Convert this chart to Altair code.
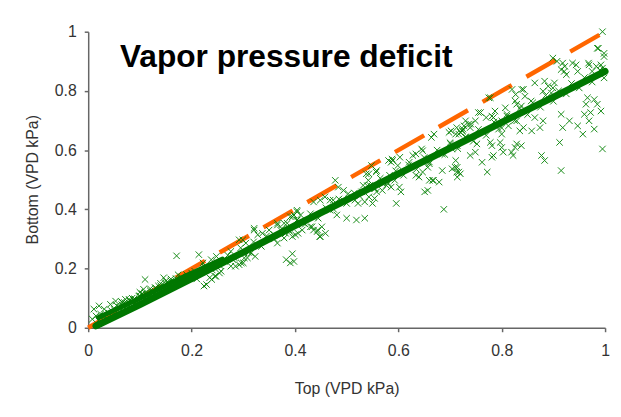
import altair as alt
import pandas as pd

title_text = "Vapor pressure deficit"
x_title = "Top (VPD kPa)"
y_title = "Bottom (VPD kPa)"
tick_values = [0, 0.2, 0.4, 0.6, 0.8, 1]

# 1:1 reference line
ref_x = [0, 1]
ref_y = [0, 1]

# dense central band (trend of the point cloud)
band_x = [0.015, 0.1, 0.2, 0.3, 0.4, 0.5, 0.6, 0.7, 0.8, 0.9, 1.0]
band_y = [0.006, 0.078, 0.166, 0.255, 0.345, 0.432, 0.520, 0.607, 0.694, 0.779, 0.866]

# upper side of the dense cloud at low values
blob_x = [0.02, 0.10, 0.18, 0.26]
blob_y = [0.035, 0.100, 0.168, 0.232]

pts_blob = [
    (0.03, 0.040), (0.04, 0.050), (0.05, 0.062), (0.05, 0.045), (0.06, 0.070), (0.06, 0.055),
    (0.07, 0.085), (0.07, 0.065), (0.08, 0.092), (0.08, 0.075), (0.09, 0.098), (0.09, 0.082),
    (0.10, 0.108), (0.10, 0.092), (0.11, 0.118), (0.11, 0.100), (0.12, 0.125), (0.12, 0.110),
    (0.13, 0.135), (0.13, 0.118), (0.14, 0.142), (0.14, 0.128), (0.15, 0.150), (0.15, 0.136),
    (0.16, 0.158), (0.16, 0.145), (0.17, 0.166), (0.17, 0.153), (0.18, 0.172), (0.19, 0.180),
    (0.035, 0.030), (0.045, 0.058), (0.065, 0.078), (0.075, 0.072), (0.085, 0.088), (0.095, 0.090),
    (0.105, 0.115), (0.115, 0.108), (0.125, 0.120), (0.135, 0.128), (0.02, 0.025), (0.025, 0.035),
    (0.055, 0.075), (0.065, 0.088), (0.085, 0.100), (0.10, 0.120), (0.12, 0.132), (0.14, 0.150),
    (0.15, 0.158), (0.16, 0.165),
]

pts_low = [
    (0.171, 0.243), (0.214, 0.247), (0.229, 0.146), (0.383, 0.230), (0.395, 0.250), (0.391, 0.219),
    (0.398, 0.224), (0.321, 0.336), (0.337, 0.319), (0.350, 0.330), (0.366, 0.347), (0.379, 0.353),
    (0.391, 0.375), (0.283, 0.236), (0.296, 0.219), (0.308, 0.236), (0.302, 0.252), (0.276, 0.208),
    (0.257, 0.191), (0.245, 0.174), (0.264, 0.224), (0.238, 0.230), (0.248, 0.241), (0.225, 0.208),
    (0.206, 0.191), (0.193, 0.174), (0.174, 0.179), (0.181, 0.163), (0.155, 0.152), (0.146, 0.169),
    (0.136, 0.141), (0.130, 0.135), (0.110, 0.163), (0.107, 0.130), (0.104, 0.113), (0.098, 0.107),
    (0.088, 0.096), (0.079, 0.096), (0.072, 0.096), (0.066, 0.085), (0.021, 0.074), (0.011, 0.063),
    (0.031, 0.063), (0.043, 0.079), (0.053, 0.090), (0.015, 0.040), (0.008, 0.029), (0.024, 0.046),
    (0.404, 0.392), (0.411, 0.381), (0.395, 0.375), (0.433, 0.341), (0.436, 0.330), (0.401, 0.314),
    (0.379, 0.303), (0.360, 0.314), (0.321, 0.330), (0.328, 0.314), (0.305, 0.286), (0.312, 0.258),
    (0.302, 0.236), (0.292, 0.213), (0.299, 0.297), (0.222, 0.219), (0.235, 0.169), (0.247, 0.174),
    (0.292, 0.297), (0.276, 0.258), (0.251, 0.219), (0.366, 0.353), (0.385, 0.353), (0.372, 0.330),
    (0.323, 0.241), (0.300, 0.219), (0.285, 0.208), (0.315, 0.252), (0.224, 0.141), (0.239, 0.163),
    (0.254, 0.185),
]

pts_mid = [
    (0.688, 0.400), (0.669, 0.654), (0.698, 0.660), (0.711, 0.654), (0.720, 0.660), (0.727, 0.682),
    (0.736, 0.688), (0.730, 0.643), (0.714, 0.615), (0.704, 0.604), (0.685, 0.587), (0.704, 0.537),
    (0.717, 0.526), (0.714, 0.509), (0.685, 0.531), (0.679, 0.492), (0.666, 0.498), (0.660, 0.498),
    (0.657, 0.464), (0.651, 0.459), (0.640, 0.509), (0.634, 0.515), (0.647, 0.526), (0.657, 0.542),
    (0.660, 0.554), (0.586, 0.559), (0.599, 0.548), (0.583, 0.515), (0.593, 0.498), (0.602, 0.475),
    (0.605, 0.459), (0.586, 0.475), (0.577, 0.481), (0.570, 0.487), (0.554, 0.470), (0.545, 0.481),
    (0.542, 0.498), (0.538, 0.520), (0.557, 0.526), (0.548, 0.548), (0.532, 0.481), (0.529, 0.459),
    (0.535, 0.425), (0.522, 0.420), (0.516, 0.431), (0.503, 0.453), (0.494, 0.464), (0.478, 0.498),
    (0.484, 0.475), (0.500, 0.370), (0.519, 0.364), (0.535, 0.370), (0.481, 0.381), (0.468, 0.397),
    (0.449, 0.308), (0.443, 0.325), (0.430, 0.341), (0.436, 0.375), (0.417, 0.353), (0.404, 0.364),
    (0.398, 0.381), (0.449, 0.431), (0.458, 0.442), (0.468, 0.431), (0.382, 0.319), (0.388, 0.330),
    (0.404, 0.397), (0.366, 0.286), (0.589, 0.565), (0.628, 0.582), (0.647, 0.598), (0.621, 0.559),
    (0.701, 0.621), (0.724, 0.665), (0.596, 0.420), (0.668, 0.498), (0.710, 0.542), (0.713, 0.526),
    (0.550, 0.420), (0.543, 0.442), (0.554, 0.437), (0.569, 0.464), (0.558, 0.459), (0.452, 0.341),
    (0.444, 0.330), (0.459, 0.319), (0.448, 0.308), (0.406, 0.319), (0.414, 0.330), (0.395, 0.308),
    (0.436, 0.425), (0.474, 0.431), (0.493, 0.431), (0.543, 0.520), (0.558, 0.531), (0.581, 0.565),
    (0.588, 0.570), (0.603, 0.576), (0.634, 0.587), (0.645, 0.604), (0.664, 0.643), (0.702, 0.665),
    (0.713, 0.676), (0.725, 0.671), (0.740, 0.688),
]

pts_right = [
    (0.995, 1.000), (0.985, 0.944), (0.998, 0.916), (0.992, 0.888), (0.995, 0.877), (0.998, 0.844),
    (0.899, 0.911), (0.918, 0.894), (0.915, 0.872), (0.921, 0.866), (0.925, 0.855), (0.944, 0.888),
    (0.947, 0.866), (0.969, 0.888), (0.864, 0.827), (0.883, 0.833), (0.890, 0.816), (0.899, 0.810),
    (0.896, 0.793), (0.880, 0.799), (0.902, 0.827), (0.842, 0.805), (0.845, 0.782), (0.826, 0.766),
    (0.829, 0.755), (0.838, 0.749), (0.857, 0.766), (0.807, 0.743), (0.787, 0.732), (0.781, 0.715),
    (0.775, 0.777), (0.966, 0.777), (0.979, 0.771), (0.963, 0.755), (0.985, 0.755), (0.972, 0.727),
    (0.992, 0.732), (0.960, 0.721), (0.915, 0.721), (0.931, 0.699), (0.918, 0.676), (0.947, 0.682),
    (0.957, 0.654), (0.979, 0.671), (0.969, 0.699), (0.864, 0.710), (0.874, 0.676), (0.880, 0.699),
    (0.858, 0.665), (0.842, 0.676), (0.829, 0.699), (0.835, 0.665), (0.813, 0.682), (0.800, 0.699),
    (0.810, 0.721), (0.784, 0.710), (0.759, 0.727), (0.749, 0.699), (0.739, 0.676), (0.730, 0.699),
    (0.724, 0.665), (0.717, 0.654), (0.995, 0.604), (0.912, 0.626), (0.915, 0.531), (0.877, 0.582),
    (0.883, 0.565), (0.822, 0.582), (0.819, 0.593), (0.838, 0.615), (0.829, 0.621), (0.800, 0.609),
    (0.803, 0.593), (0.797, 0.626), (0.778, 0.626), (0.781, 0.615), (0.762, 0.559), (0.772, 0.526),
    (0.781, 0.576), (0.784, 0.582), (0.749, 0.593), (0.739, 0.582), (0.752, 0.621), (0.720, 0.520),
    (0.714, 0.542), (0.711, 0.565), (0.794, 0.671), (0.800, 0.654), (0.826, 0.609), (0.820, 0.805),
    (0.839, 0.805), (0.827, 0.788), (0.907, 0.900), (0.922, 0.883), (0.937, 0.894), (0.968, 0.894),
    (0.983, 0.883), (0.975, 0.866), (0.987, 0.944), (0.998, 0.927), (0.755, 0.727), (0.770, 0.710),
    (0.778, 0.777),
]

pts_band = [
    (0.20, 0.185), (0.21, 0.165), (0.225, 0.205), (0.24, 0.195), (0.255, 0.210), (0.27, 0.245),
    (0.28, 0.230), (0.295, 0.270), (0.31, 0.255), (0.32, 0.290), (0.335, 0.275), (0.345, 0.310),
    (0.36, 0.300), (0.375, 0.335), (0.39, 0.325), (0.405, 0.365), (0.42, 0.350), (0.43, 0.385),
    (0.445, 0.370), (0.46, 0.405), (0.475, 0.400), (0.485, 0.435), (0.50, 0.420), (0.515, 0.455),
    (0.525, 0.445), (0.54, 0.480), (0.555, 0.470), (0.565, 0.505), (0.58, 0.490), (0.595, 0.530),
    (0.61, 0.515), (0.62, 0.550), (0.635, 0.535), (0.65, 0.575), (0.66, 0.560), (0.675, 0.600),
    (0.69, 0.585), (0.70, 0.625), (0.715, 0.605), (0.73, 0.645), (0.745, 0.630), (0.755, 0.670),
    (0.77, 0.650), (0.785, 0.695), (0.80, 0.675), (0.81, 0.715), (0.825, 0.700), (0.835, 0.740),
    (0.85, 0.720), (0.86, 0.760), (0.875, 0.745), (0.885, 0.785), (0.90, 0.765), (0.91, 0.800),
    (0.925, 0.790), (0.935, 0.825), (0.95, 0.810), (0.96, 0.845), (0.975, 0.830), (0.99, 0.870),
]

rows = []
for group in (pts_blob, pts_low, pts_mid, pts_right, pts_band):
    rows.extend(group)
scatter_df = pd.DataFrame(rows, columns=["top", "bottom"])
band_df = pd.DataFrame({"top": band_x, "bottom": band_y})
blob_df = pd.DataFrame({"top": blob_x, "bottom": blob_y})
ref_df = pd.DataFrame({"top": ref_x, "bottom": ref_y})
title_df = pd.DataFrame({"t": [title_text]})

FONT = "Liberation Sans"

xscale = alt.Scale(domain=[0, 1], nice=False, zero=True)
yscale = alt.Scale(domain=[0, 1], nice=False, zero=True)

xaxis = alt.Axis(
    title=x_title, values=tick_values, format="~g", grid=False, tickSize=4, labelPadding=11,
    titleY=66, titleBaseline="alphabetic", labelFlush=False,
)
yaxis = alt.Axis(
    title=y_title, values=tick_values, format="~g", grid=False, tickSize=4, labelPadding=8,
    titleX=-56, titleY=149, titleBaseline="middle", titleAngle=270, titleAlign="center",
    labelFlush=False,
)

X = alt.X("top:Q", scale=xscale, axis=xaxis)
Y = alt.Y("bottom:Q", scale=yscale, axis=yaxis)

ref_line = alt.Chart(ref_df).mark_line(
    color="#FF6600", strokeWidth=4.5, strokeDash=[34, 17], strokeCap="butt"
).encode(x=X, y=Y)

points = alt.Chart(scatter_df).mark_point(
    shape="M-1,-1L1,1M-1,1L1,-1", size=42, filled=False,
    color="#008000", strokeWidth=1, opacity=0.9,
).encode(x=X, y=Y)

blob_line = alt.Chart(blob_df).mark_line(
    color="#007700", strokeWidth=5, strokeCap="round"
).encode(x=X, y=Y)

band_line = alt.Chart(band_df).mark_line(
    color="#007700", strokeWidth=7, strokeCap="round"
).encode(x=X, y=Y)

title = alt.Chart(title_df).mark_text(
    font=FONT, fontSize=32, fontWeight="bold", color="#000000",
    align="left", baseline="alphabetic",
).encode(x=alt.value(32), y=alt.value(36), text="t:N")

chart = alt.layer(ref_line, points, blob_line, band_line, title).properties(
    width=522, height=299,
    autosize=alt.AutoSizeParams(type="none"),
    padding={"left": 81, "top": 22, "right": 8, "bottom": 70},
    background="white",
).configure_view(stroke=None).configure_axis(
    domainColor="#666666", domainWidth=1.5, tickColor="#666666", tickWidth=1.5,
    labelFont=FONT, labelFontSize=16, labelColor="#333333",
    titleFont=FONT, titleFontSize=16, titleColor="#333333", titleFontWeight="normal",
)

chart.save("out.html", embed_options={"renderer": "svg", "actions": False})
